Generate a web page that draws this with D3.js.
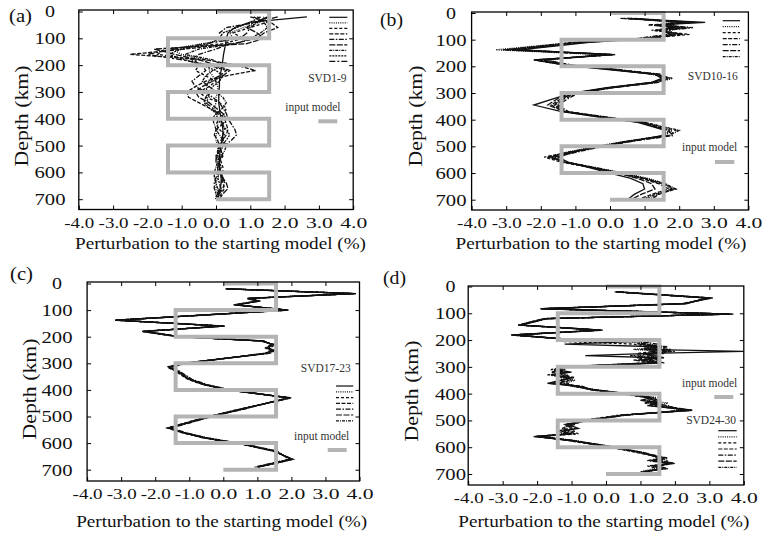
<!DOCTYPE html>
<html><head><meta charset="utf-8">
<script src="https://cdn.jsdelivr.net/npm/d3@7/dist/d3.min.js"></script>
<style>body{margin:0;background:#fff}svg{display:block}</style>
</head><body>
<svg id="chart" width="764" height="535"></svg>
<script>
// ---------- data ----------
const xTicks = [-4,-3,-2,-1,0,1,2,3,4];
const xTickLabels = ["-4.0","-3.0","-2.0","-1.0","0.0","1.0","2.0","3.0","4.0"];
const yTicks = [0,100,200,300,400,500,600,700];
const modelDepth = [0,0,100,100,200,200,300,300,400,400,500,500,600,600,700,700];
const modelVal   = [0,1.55,1.55,-1.4,-1.4,1.55,1.55,-1.4,-1.4,1.55,1.55,-1.4,-1.4,1.55,1.55,0];

// (a) SVD1-9
const depthA = [20,40,60,80,100,120,140,160,180,200,220,240,260,280,300,320,340,360,380,400,420,440,460,480,500,520,540,560,580,600,620,640,660,680,700];
const a1 = [2.65,1.0,0.55,0.35,0.3,0.28,0.25,0.22,0.2,0.18,0.15,0.12,0.1,0.1,0.08,0.08,0.08,0.1,0.12,0.15,0.18,0.2,0.2,0.18,0.15,0.12,0.1,0.1,0.1,0.12,0.15,0.15,0.12,0.08,0.05];
const a2 = [1.4,1.3,0.8,0.4,0.5,-0.4,-1.3,-1.0,-0.3,-0.2,-0.2,-0.1,0.0,0.05,0.05,0.0,0.0,-0.05,0.0,0.05,0.05,0.05,0.0,0.0,0.05,0.05,0.05,0.1,0.1,0.1,0.05,0.0,0.0,0.0,0.0];
const a3 = [1.2,1.5,1.0,0.5,0.8,0.2,-1.5,-1.7,-0.6,-0.5,-0.6,-0.3,0.0,-0.2,-0.5,-0.3,0.1,0.3,0.25,0.1,0.0,0.1,0.25,0.2,0.1,0.05,0.1,0.15,0.2,0.2,0.15,0.2,0.25,0.15,0.1];
const a4 = [1.0,1.6,1.8,1.4,1.2,0.5,-0.9,-2.5,-0.3,0.6,1.15,0.3,-0.3,-0.6,-0.85,-0.8,-0.5,-0.2,0.1,0.25,0.3,0.35,0.3,0.2,0.1,0.15,0.2,0.1,0.05,0.1,0.2,0.25,0.2,0.1,0.05];
const a5 = [1.5,1.2,0.3,0.1,0.2,0.4,0.0,-0.5,-0.7,-0.4,-0.3,-0.5,-0.7,-0.6,-0.3,-0.1,0.1,0.2,0.3,0.35,0.45,0.55,0.6,0.45,0.25,0.1,0.0,0.0,0.05,0.05,0.0,-0.05,-0.05,0.0,0.05];
const a6 = [1.6,1.1,0.9,1.2,1.4,0.9,-1.8,-1.2,-0.5,0.0,0.4,0.2,-0.1,-0.4,-0.6,-0.5,-0.2,0.0,0.2,0.3,0.2,0.0,-0.05,0.05,0.1,0.15,0.15,0.1,0.1,0.15,0.2,0.3,0.35,0.2,0.1];
const a7 = [1.1,1.4,1.5,1.3,1.0,0.6,-0.5,-0.9,-0.1,0.2,-0.1,-0.3,-0.4,-0.2,0.0,0.2,0.3,0.2,0.0,-0.1,-0.05,0.0,0.1,0.2,0.3,0.25,0.15,0.05,0.0,-0.05,-0.05,0.0,0.05,0.05,0.0];
const a8 = [1.3,1.0,0.6,0.2,0.1,-0.2,-1.0,-1.4,-0.9,-0.4,0.0,0.2,0.1,-0.1,-0.2,-0.3,-0.35,-0.2,0.0,0.05,0.15,0.3,0.4,0.3,0.15,0.05,0.05,0.1,0.15,0.1,0.05,0.1,0.15,0.1,0.0];
const a9 = [1.8,1.2,1.0,0.9,0.7,-0.3,-1.2,-2.0,-1.0,-0.2,0.3,0.1,-0.2,-0.3,-0.25,-0.2,-0.3,-0.1,0.05,0.1,0.2,0.25,0.2,0.15,0.1,0.05,0.0,0.05,0.1,0.15,0.2,0.15,0.1,0.05,0.05];

// (b) SVD10-16
const depthB = [20,35,45,55,65,80,95,110,138,156,176,195,210,230,245,260,280,300,320,345,370,390,410,440,460,480,500,520,540,560,580,600,620,640,660,680,700];
const b1 = [0.5,2.75,1.3,1.9,1.4,1.8,1.2,-0.6,-2.6,0.15,-2.2,-1.3,-0.2,1.3,1.5,1.2,-0.1,-1.1,-1.6,-2.2,-1.4,-0.3,0.8,1.6,1.5,0.6,-0.3,-1.0,-1.5,-1.2,-0.6,0.0,0.6,0.95,1.0,0.7,0.5];
const b2 = [0.6,1.8,1.6,2.3,1.7,1.9,0.9,-1.0,-3.3,-0.3,-1.8,-1.2,0.1,1.2,1.8,1.4,0.0,-1.0,-1.4,-1.5,-1.3,-0.1,0.9,1.8,1.6,0.5,-0.4,-1.2,-1.8,-1.3,-0.4,0.4,1.1,1.6,1.8,1.3,0.9];
const b3 = [0.4,2.2,1.5,2.0,1.2,2.3,1.1,-0.7,-2.9,0.0,-2.0,-1.2,0.0,1.4,1.6,1.3,0.1,-0.9,-1.3,-1.6,-1.2,-0.2,1.0,1.9,1.7,0.6,-0.2,-1.1,-1.9,-1.4,-0.5,0.3,1.0,1.5,1.9,1.3,1.0];
const b4 = [0.7,2.4,1.1,2.1,1.5,2.0,1.0,-0.9,-2.8,0.1,-2.1,-1.3,-0.1,1.3,1.7,1.3,0.0,-1.0,-1.4,-1.7,-1.3,-0.2,0.9,1.7,1.6,0.6,-0.3,-1.0,-1.7,-1.3,-0.5,0.2,0.9,1.4,1.7,1.2,0.8];
const b5 = [0.5,2.0,1.4,2.4,1.6,1.7,0.8,-1.1,-3.0,-0.1,-1.9,-1.1,0.1,1.5,1.6,1.4,0.1,-0.9,-1.2,-1.5,-1.2,-0.1,1.0,1.7,1.8,0.7,-0.2,-0.9,-1.6,-1.2,-0.4,0.3,1.0,1.5,1.8,1.4,1.2];
const b6 = [0.3,2.5,1.3,1.8,1.3,2.1,1.2,-0.8,-2.7,0.05,-2.2,-1.3,-0.1,1.4,1.5,1.3,0.0,-1.0,-1.5,-1.8,-1.3,-0.3,0.9,1.6,1.6,0.5,-0.3,-1.1,-1.8,-1.2,-0.5,0.2,0.8,1.2,1.3,0.9,0.6];
const b7 = [0.6,2.1,1.7,2.2,1.4,1.9,1.0,-0.9,-3.1,0.1,-2.0,-1.2,0.0,1.3,1.8,1.2,0.0,-1.0,-1.4,-1.6,-1.3,-0.2,1.0,2.0,1.7,0.6,-0.3,-1.1,-1.7,-1.3,-0.5,0.3,1.0,1.6,1.9,1.4,1.1];

// (c) SVD17-23
const depthC = [20,38,56,66,80,100,138,160,180,200,216,230,242,252,262,300,314,330,360,380,400,430,470,500,543,560,580,605,630,661,690];
const c1 = [0.1,3.85,0.72,1.05,0.35,1.88,-3.15,0.0,-2.35,-1.3,1.15,1.45,1.3,1.45,1.3,-1.15,-1.6,-1.35,-1.0,-0.55,0.15,1.95,0.6,-0.4,-1.6,-1.2,-0.55,0.6,1.5,2.02,1.0];
const c2 = [0.12,3.8,0.75,1.0,0.4,1.85,-3.1,-0.05,-2.3,-1.3,1.1,1.5,1.35,1.4,1.25,-1.1,-1.55,-1.3,-0.95,-0.5,0.2,1.9,0.65,-0.35,-1.55,-1.15,-0.5,0.65,1.55,1.95,0.95];
const c3 = [0.08,3.9,0.7,1.1,0.3,1.9,-3.2,0.05,-2.4,-1.35,1.2,1.4,1.25,1.5,1.35,-1.2,-1.65,-1.4,-1.05,-0.6,0.1,2.0,0.55,-0.45,-1.65,-1.25,-0.6,0.55,1.45,2.05,1.05];
const c4 = [0.1,3.82,0.74,1.02,0.37,1.86,-3.12,-0.02,-2.33,-1.28,1.13,1.48,1.28,1.47,1.32,-1.13,-1.58,-1.33,-0.98,-0.53,0.17,1.93,0.62,-0.38,-1.58,-1.18,-0.53,0.62,1.52,2.0,0.98];
const c5 = [0.14,3.78,0.78,1.08,0.42,1.83,-3.08,-0.08,-2.28,-1.25,1.08,1.52,1.4,1.38,1.22,-1.08,-1.52,-1.28,-0.92,-0.48,0.22,1.88,0.68,-0.32,-1.52,-1.12,-0.48,0.68,1.58,1.92,0.92];
const c6 = [0.06,3.88,0.68,0.98,0.32,1.92,-3.18,0.03,-2.38,-1.33,1.18,1.42,1.32,1.52,1.38,-1.18,-1.62,-1.38,-1.02,-0.58,0.12,1.98,0.58,-0.42,-1.62,-1.22,-0.58,0.58,1.48,2.04,1.02];
const c7 = [0.1,3.84,0.76,1.04,0.38,1.87,-3.14,0.02,-2.36,-1.3,1.16,1.46,1.22,1.44,1.28,-1.16,-1.6,-1.36,-1.0,-0.56,0.14,1.96,0.6,-0.4,-1.6,-1.2,-0.56,0.6,1.5,2.02,1.0];

// (d) SVD24-30
const depthD = [20,43,64,83,103,120,144,163,181,195,205,215,225,235,242,250,258,266,275,285,300,310,320,330,340,350,362,372,385,400,415,425,435,445,462,480,500,515,530,540,550,560,575,600,620,640,650,660,670,680,692];
const sd1 = [0.3,3.0,2.3,-1.85,3.6,-1.75,-2.5,-0.15,-2.7,-1.3,1.0,-1.2,1.5,1.1,4.0,1.3,-0.6,1.5,1.0,1.6,-1.2,-1.5,-1.0,-1.6,-1.0,-1.3,-1.7,-0.8,-0.4,0.5,1.3,1.0,1.6,1.2,2.5,0.5,-0.6,-1.1,-0.8,-1.3,-1.0,-2.05,-1.0,0.2,1.0,1.6,1.3,1.95,1.4,1.7,1.1];
const sd2 = [0.35,2.9,2.35,-1.8,3.5,-1.7,-2.45,-0.1,-2.65,-1.25,0.6,1.2,1.7,0.8,1.8,1.5,1.0,1.2,1.6,1.3,-1.1,-1.3,-1.4,-1.1,-1.3,-0.9,-1.2,-1.0,-0.3,0.6,1.5,1.2,1.8,1.4,2.3,0.6,-0.5,-1.2,-1.0,-0.9,-1.3,-1.9,-0.9,0.3,1.1,1.5,1.8,1.7,1.6,1.4,1.0];
const sd3 = [0.3,3.05,2.25,-1.9,3.65,-1.8,-2.55,-0.2,-2.75,-1.35,-1.3,0.8,1.3,1.7,1.4,0.9,1.6,0.9,1.4,1.2,-1.25,-1.2,-1.6,-1.3,-0.9,-1.4,-1.1,-0.9,-0.5,0.4,1.2,1.6,1.1,1.7,2.4,0.4,-0.7,-0.9,-1.3,-1.0,-0.8,-2.0,-1.1,0.1,0.9,1.7,1.4,1.9,1.2,1.5,1.2];
const sd4 = [0.25,2.95,2.3,-1.85,3.55,-1.75,-2.5,-0.15,-2.7,-1.3,1.3,1.0,1.8,1.3,2.0,1.1,1.4,1.7,0.8,1.5,-1.15,-1.6,-1.2,-1.4,-1.2,-1.1,-1.5,-0.7,-0.45,0.5,1.4,1.1,1.5,1.3,2.5,0.5,-0.6,-1.0,-1.1,-1.4,-1.1,-2.1,-1.0,0.2,1.0,1.8,1.5,2.0,1.5,1.8,1.0];
const sd5 = [0.3,3.0,2.3,-1.8,3.6,-1.7,-2.5,-0.1,-2.7,-1.3,0.9,1.5,1.1,1.9,1.3,1.7,0.7,1.3,1.2,1.7,-1.2,-1.4,-1.1,-1.7,-1.1,-1.2,-1.3,-0.9,-0.35,0.6,1.2,1.4,1.3,1.8,2.2,0.6,-0.5,-1.2,-0.9,-1.2,-1.2,-1.8,-1.0,0.3,1.0,1.6,1.2,1.8,1.6,1.6,1.1];
const sd6 = [0.35,3.1,2.2,-1.9,3.7,-1.8,-2.55,-0.2,-2.75,-1.3,1.2,1.1,1.5,1.4,1.7,1.2,1.3,1.4,1.5,1.4,-1.3,-1.3,-1.5,-1.2,-1.0,-1.3,-1.6,-0.8,-0.4,0.5,1.3,1.3,1.4,1.5,2.4,0.5,-0.6,-1.1,-1.2,-1.1,-0.9,-2.0,-1.0,0.2,1.1,1.7,1.6,1.9,1.3,1.7,1.1];
const sd7 = [0.3,2.9,2.35,-1.85,3.6,-1.75,-2.45,-0.15,-2.7,-1.3,1.1,0.9,1.6,1.0,1.9,1.4,1.2,1.6,1.1,1.3,-1.2,-1.5,-1.3,-1.5,-1.1,-1.0,-1.4,-1.0,-0.35,0.55,1.3,1.5,1.2,1.6,2.5,0.5,-0.55,-1.0,-1.0,-1.2,-1.1,-2.0,-1.05,0.2,1.0,1.6,1.4,1.8,1.5,1.6,1.05];

const panelTags = ["(a)","(b)","(c)","(d)"];
const legendNames = ["SVD1-9","SVD10-16","SVD17-23","SVD24-30"];
const inputLabel = "input model";
const xTitle = "Perturbation to the starting model (%)";
const yTitle = "Depth (km)";

// ---------- layout / style ----------
const dashes = ["", "1,1.2", "3,2", "4,1.5", "5,1.5,1.5,1.5", "6,1.5", "3,1,1,1", "2,1", "6,2,2,2"];
const FONT = "'Liberation Serif','Times New Roman',serif";
const GRAY = "#b4b4b4";

const panels = [
  {tag:0, depths:depthA, series:[a1,a2,a3,a4,a5,a6,a7,a8,a9],
   x0:78.8, x1:353.2, yZero:11.5, y700:199.2, yTop:10, yBot:209.5,
   tickCx:50, xlabCx:220.5, xlabBase:248.5, ylabX:28, ylabCy:116, tagX:9, tagY:22,
   leg:{lx:[329.3,347.3], ly0:17.3, ldy:5.5, svdR:346.5, svdY:82, inR:340.5, inY:111, gx:[318.3,337.3], gy:121.3}},
  {tag:1, depths:depthB, series:[b1,b2,b3,b4,b5,b6,b7],
   x0:471.6, x1:748.4, yZero:13, y700:199.7, yTop:12, yBot:210,
   tickCx:451, xlabCx:601, xlabBase:248.5, ylabX:421.5, ylabCy:116, tagX:380, tagY:26,
   leg:{lx:[722.7,740], ly0:20.7, ldy:6, svdR:737.7, svdY:80.3, inR:737.3, inY:150.5, gx:[715,734.3], gy:162}},
  {tag:2, depths:depthC, series:[c1,c2,c3,c4,c5,c6,c7],
   x0:87.1, x1:359.5, yZero:283.5, y700:469.7, yTop:282, yBot:481,
   tickCx:57, xlabCx:221.7, xlabBase:526.5, ylabX:35.5, ylabCy:389, tagX:10, tagY:280,
   leg:{lx:[336,353.3], ly0:386, ldy:5.8, svdR:350.7, svdY:372, inR:349.3, inY:440, gx:[327.7,346.7], gy:450}},
  {tag:3, depths:depthD, series:[sd1,sd2,sd3,sd4,sd5,sd6,sd7],
   x0:468.2, x1:743.8, yZero:286.5, y700:474, yTop:286, yBot:485,
   tickCx:450.5, xlabCx:603.8, xlabBase:527, ylabX:418, ylabCy:391, tagX:383, tagY:284,
   leg:{lx:[718.3,736.7], ly0:430.7, ldy:6.1, svdR:736, svdY:424.3, inR:737.3, inY:386.5, gx:[714.3,733.3], gy:397}}
];

const svg = d3.select("#chart");
svg.append("rect").attr("width",764).attr("height",535).attr("fill","#fff");

panels.forEach((p,pi)=>{
  const g = svg.append("g");
  const x = d3.scaleLinear().domain([-4,4]).range([p.x0,p.x1]);
  const y = d3.scaleLinear().domain([0,700]).range([p.yZero,p.y700]);
  const clipId = "clip"+pi;
  svg.append("clipPath").attr("id",clipId).append("rect")
    .attr("x",p.x0).attr("y",p.yTop).attr("width",p.x1-p.x0).attr("height",p.yBot-p.yTop);

  const line = d3.line().x(d=>x(d[0])).y(d=>y(d[1]));

  p.series.forEach((s,i)=>{
    g.append("path")
      .attr("d", line(s.map((v,j)=>[v,p.depths[j]])))
      .attr("fill","none").attr("stroke","#111").attr("stroke-width",1.3)
      .attr("stroke-dasharray",dashes[i]).attr("stroke-linejoin","miter")
      .attr("clip-path",`url(#${clipId})`);
  });

  g.append("path")
    .attr("d", line(modelVal.map((v,j)=>[v,modelDepth[j]])))
    .attr("fill","none").attr("stroke",GRAY).attr("stroke-width",4)
    .attr("stroke-linejoin","miter");

  g.append("rect").attr("x",p.x0).attr("y",p.yTop).attr("width",p.x1-p.x0).attr("height",p.yBot-p.yTop)
    .attr("fill","none").attr("stroke","#000").attr("stroke-width",1.3);

  const axB = g.append("g").attr("transform",`translate(0,${p.yBot})`)
    .call(d3.axisBottom(x).tickValues(xTicks).tickSize(-4).tickFormat(d=>xTickLabels[xTicks.indexOf(d)]));
  axB.select(".domain").remove();
  axB.selectAll("line").attr("stroke","#000");
  axB.selectAll("text").attr("y",18).attr("dy",null)
    .attr("font-family",FONT).attr("font-size",15.5).attr("fill","#111")
    .attr("textLength",d=>d<0?30:27).attr("lengthAdjust","spacingAndGlyphs");

  const axL = g.append("g").attr("transform",`translate(${p.x0},0)`)
    .call(d3.axisLeft(y).tickValues(yTicks).tickSize(-4));
  axL.select(".domain").remove();
  axL.selectAll("line").attr("stroke","#000");
  axL.selectAll("text").attr("x",p.tickCx-p.x0).attr("text-anchor","middle").attr("dy","0.34em")
    .attr("font-family",FONT).attr("font-size",16).attr("fill","#111")
    .attr("textLength",d=>d===0?10:31).attr("lengthAdjust","spacingAndGlyphs");

  const axT = g.append("g").attr("transform",`translate(0,${p.yTop})`)
    .call(d3.axisTop(x).tickValues(xTicks.slice(1,-1)).tickSize(-4).tickFormat(""));
  axT.select(".domain").remove();
  axT.selectAll("line").attr("stroke","#000");

  const axR = g.append("g").attr("transform",`translate(${p.x1},0)`)
    .call(d3.axisRight(y).tickValues(yTicks.slice(1)).tickSize(-4).tickFormat(""));
  axR.select(".domain").remove();
  axR.selectAll("line").attr("stroke","#000");

  g.append("text").attr("x",p.xlabCx).attr("y",p.xlabBase).attr("text-anchor","middle")
    .attr("font-family",FONT).attr("font-size",17).attr("fill","#111")
    .attr("textLength",291).attr("lengthAdjust","spacingAndGlyphs").text(xTitle);
  g.append("text").attr("transform",`translate(${p.ylabX},${p.ylabCy}) rotate(-90)`).attr("text-anchor","middle")
    .attr("font-family",FONT).attr("font-size",18).attr("fill","#111")
    .attr("textLength",101).attr("lengthAdjust","spacingAndGlyphs").text(yTitle);
  g.append("text").attr("x",p.tagX).attr("y",p.tagY)
    .attr("font-family",FONT).attr("font-size",18).attr("fill","#111")
    .attr("textLength",23).attr("lengthAdjust","spacingAndGlyphs").text(panelTags[p.tag]);

  const L = p.leg;
  p.series.forEach((s,i)=>{
    g.append("line").attr("x1",L.lx[0]).attr("x2",L.lx[1])
      .attr("y1",L.ly0+i*L.ldy).attr("y2",L.ly0+i*L.ldy)
      .attr("stroke","#111").attr("stroke-width",1.2).attr("stroke-dasharray",dashes[i]);
  });
  g.append("text").attr("x",L.svdR).attr("y",L.svdY).attr("text-anchor","end")
    .attr("font-family",FONT).attr("font-size",11.5).attr("fill","#333").text(legendNames[p.tag]);
  g.append("text").attr("x",L.inR).attr("y",L.inY).attr("text-anchor","end")
    .attr("font-family",FONT).attr("font-size",11.5).attr("fill","#333").text(inputLabel);
  g.append("line").attr("x1",L.gx[0]).attr("x2",L.gx[1]).attr("y1",L.gy).attr("y2",L.gy)
    .attr("stroke",GRAY).attr("stroke-width",4);
});
</script>
</body></html>
